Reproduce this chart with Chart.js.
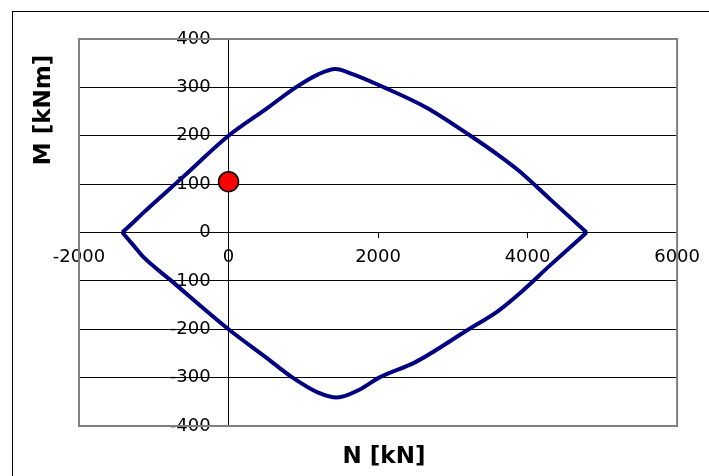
<!DOCTYPE html>
<html>
<head>
<meta charset="utf-8">
<script src="https://cdn.jsdelivr.net/npm/chart.js@4.4.1/dist/chart.umd.min.js"></script>
<style>
  body { margin: 0; background: #fff; }
  #wrap { width: 709px; height: 476px; }
</style>
</head>
<body>
<div id="wrap"><canvas id="mnChart" width="709" height="476"></canvas></div>
<script>
// interaction curve, upper and lower branch (N in kN, M in kNm)
const upperN = [-1420, -1280, -1160, -600, 0, 500, 900, 1200, 1430, 1650, 2080, 2650, 3236, 3600, 3880, 4300, 4790];
const upperM = [0, 20, 38, 116, 200, 255, 300, 327, 338, 328, 300, 258, 200, 161, 128, 69, 0];
const lowerN = [-1420, -1280, -1143, -764, 0, 500, 858, 1200, 1450, 1750, 2013, 2500, 3213, 3600, 3900, 4300, 4790];
const lowerM = [0, -25, -50, -100, -200, -258, -300, -331, -341, -325, -300, -268, -200, -163, -125, -68, 0];
// design load point
const loadN = [0];
const loadM = [105];
// axis ticks
const xTicks = [-2000, 0, 2000, 4000, 6000];
const yTicks = [-400, -300, -200, -100, 0, 100, 200, 300, 400];

function toPoints(xs, ys) {
  return xs.map((x, i) => ({ x: x, y: ys[i] }));
}

const frame = {
  id: 'frame',
  beforeDraw(chart) {
    const ctx = chart.ctx;
    ctx.save();
    ctx.fillStyle = '#fff';
    ctx.fillRect(0, 0, chart.width, chart.height);
    ctx.strokeStyle = '#000';
    ctx.lineWidth = 1;
    ctx.strokeRect(12.5, 11.5, 800, 600);
    ctx.restore();
  },
  beforeDatasetsDraw(chart) {
    const a = chart.chartArea;
    const ctx = chart.ctx;
    ctx.save();
    ctx.strokeStyle = '#808080';
    ctx.lineWidth = 2;
    ctx.strokeRect(a.left, a.top, a.right - a.left, a.bottom - a.top);
    ctx.restore();
  },
  afterDraw(chart) {
    const ctx = chart.ctx;
    ctx.save();
    ctx.fillStyle = '#000';
    ctx.font = 'bold 23px "DejaVu Sans"';
    ctx.textAlign = 'center';
    ctx.textBaseline = 'middle';
    ctx.fillText('N [kN]', 384, 457);
    ctx.translate(44, 110);
    ctx.rotate(-Math.PI / 2);
    ctx.fillText('M [kNm]', 0, 0);
    ctx.restore();
  }
};

const tickFont = { family: 'DejaVu Sans', size: 18 };

new Chart(document.getElementById('mnChart').getContext('2d'), {
  type: 'scatter',
  data: {
    datasets: [{
      data: toPoints(loadN, loadM),
      pointRadius: 10,
      pointBackgroundColor: '#ff0000',
      pointBorderColor: '#000',
      pointBorderWidth: 1.5,
      showLine: false
    }, {
      data: toPoints(upperN, upperM),
      showLine: true,
      borderColor: '#000080',
      borderWidth: 4,
      pointRadius: 0,
      cubicInterpolationMode: 'monotone'
    }, {
      data: toPoints(lowerN, lowerM),
      showLine: true,
      borderColor: '#000080',
      borderWidth: 4,
      pointRadius: 0,
      cubicInterpolationMode: 'monotone'
    }]
  },
  options: {
    responsive: false,
    animation: false,
    layout: { padding: { left: 79, top: 39, right: 31, bottom: 50 } },
    plugins: { legend: { display: false }, tooltip: { enabled: false } },
    scales: {
      x: {
        type: 'linear',
        position: { y: 0 },
        min: -2000,
        max: 6000,
        afterBuildTicks: s => { s.ticks = xTicks.map(v => ({ value: v })); },
        // only the N = 0 line is drawn across the plot: it is the vertical axis
        grid: {
          display: true,
          drawOnChartArea: true,
          drawTicks: true,
          tickLength: 5,
          color: c => (c.tick && c.tick.value === 0) ? '#000' : 'rgba(0,0,0,0)',
          tickColor: '#000'
        },
        border: { color: '#000', width: 1 },
        ticks: { font: tickFont, color: '#000', padding: 9, maxRotation: 0, callback: v => String(v) }
      },
      y: {
        type: 'linear',
        // labels sit a little left of the N = 0 axis
        position: { x: -240 },
        min: -400,
        max: 400,
        afterBuildTicks: s => { s.ticks = yTicks.map(v => ({ value: v })); },
        grid: { color: '#000', lineWidth: 1, drawTicks: false },
        border: { display: false },
        ticks: { font: tickFont, color: '#000', padding: 0, callback: v => String(v) }
      }
    }
  },
  plugins: [frame]
});
</script>
</body>
</html>
